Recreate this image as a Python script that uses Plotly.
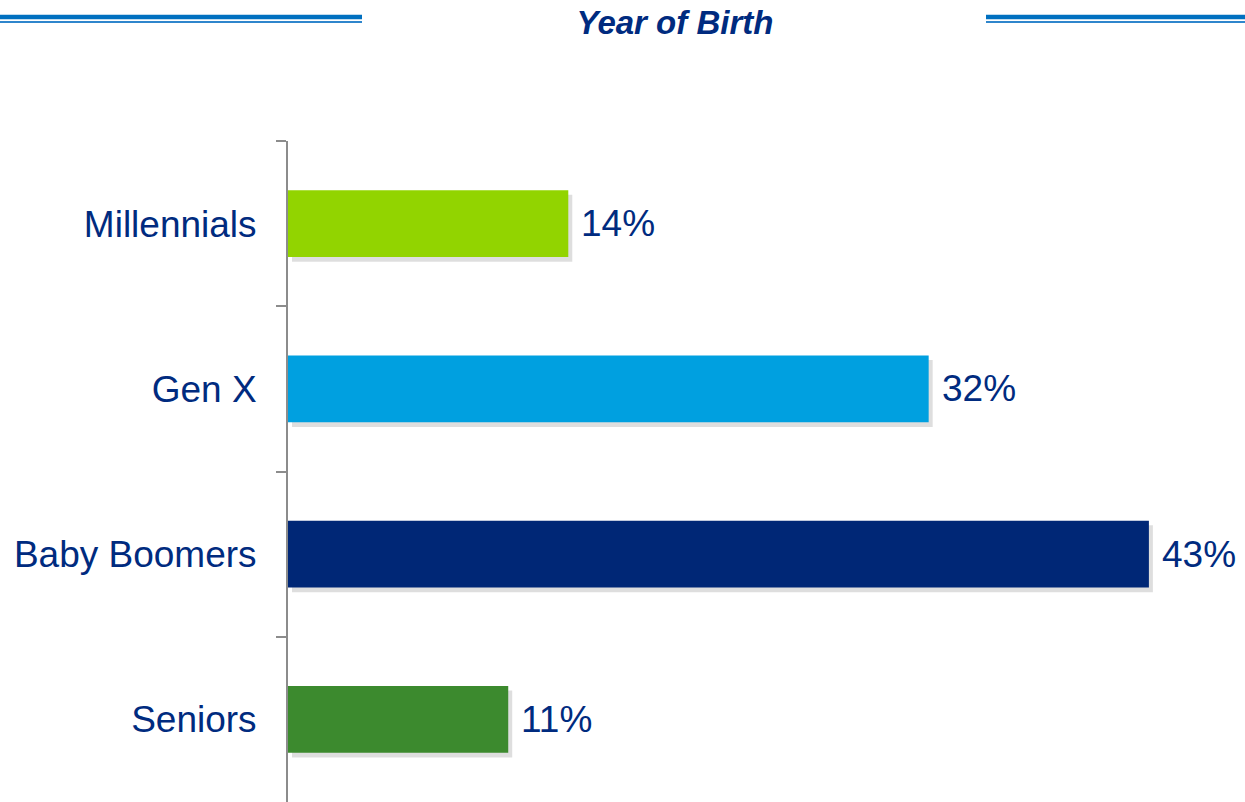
import plotly.graph_objects as go

# chart data
categories = ["Millennials", "Gen X", "Baby Boomers", "Seniors"]
shares = [14, 32, 43, 11]
bar_colors = ["#92D400", "#00A0E0", "#002776", "#3C8A2E"]
labels = [str(v) + "%" for v in shares]

navy = "#002B7F"
bar_width = 0.405

fig = go.Figure()

# soft drop shadow behind each bar
fig.add_trace(go.Bar(
    y=categories, x=shares, base=0.2, orientation="h",
    width=bar_width, offset=-bar_width / 2 + 0.028,
    marker=dict(color="rgba(0,0,0,0.13)", line_width=0),
    hoverinfo="skip", showlegend=False))

fig.add_trace(go.Bar(
    y=categories, x=shares, orientation="h",
    width=bar_width, offset=-bar_width / 2,
    marker=dict(color=bar_colors, line_width=0),
    showlegend=False))

for cat, v, lab in zip(categories, shares, labels):
    fig.add_annotation(x=v, y=cat, text=lab, showarrow=False,
                       xanchor="left", yanchor="middle", xshift=11,
                       font=dict(size=37, color=navy))

# header rules on both sides of the title
for x0, x1 in [(-288, 74), (698, 957)]:
    fig.add_shape(type="line", xref="paper", yref="paper",
                  x0=x0 / 957, x1=x1 / 957, y0=1 + 124 / 661, y1=1 + 124 / 661,
                  line=dict(color="#0070C0", width=4.5))
    fig.add_shape(type="line", xref="paper", yref="paper",
                  x0=x0 / 957, x1=x1 / 957, y0=1 + 119 / 661, y1=1 + 119 / 661,
                  line=dict(color="#2F86CC", width=2))

fig.update_layout(
    width=1245, height=802,
    margin=dict(l=288, r=0, t=141, b=0),
    paper_bgcolor="white", plot_bgcolor="white",
    barmode="overlay",
    title=dict(text="<b><i>Year of Birth</i></b>", x=675 / 1245, xanchor="center",
               y=1 - 22 / 802, yanchor="middle",
               font=dict(family="Arial", size=33, color=navy)),
    font=dict(family="Arial", color=navy),
)
fig.update_xaxes(range=[0, 47.8], visible=False, showgrid=False, zeroline=False)
fig.update_yaxes(
    categoryorder="array", categoryarray=categories, autorange="reversed",
    showgrid=False, zeroline=False,
    showline=True, linecolor="#8C8C8C", linewidth=2,
    ticks="outside", tickson="boundaries", ticklen=10, tickwidth=2, tickcolor="#8C8C8C",
    ticklabelstandoff=22,
    tickfont=dict(size=37, color=navy),
)

fig.write_html("out.html", config={"displayModeBar": False},
               post_script="document.body.style.margin='0';")
